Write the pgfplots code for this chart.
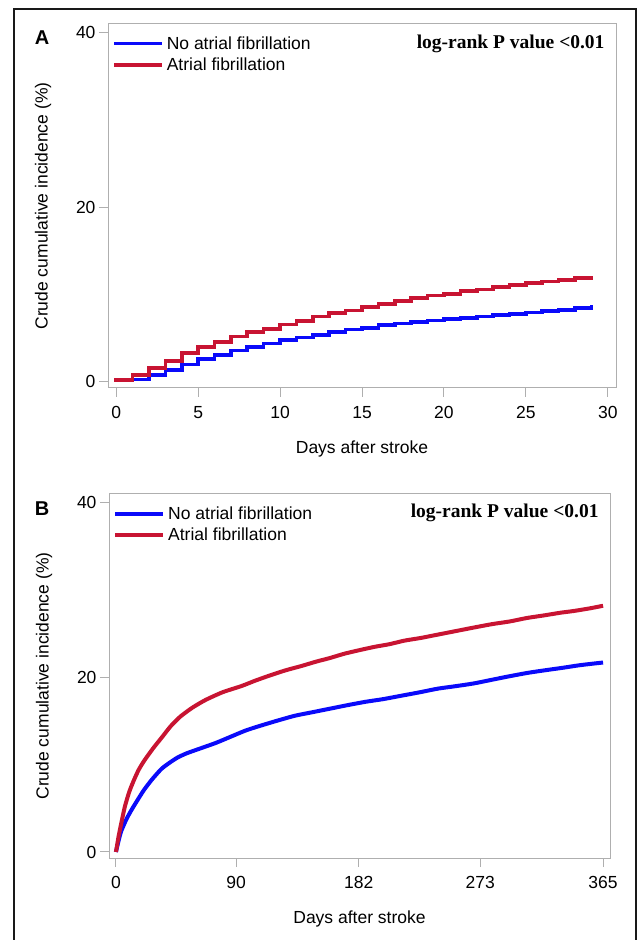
\documentclass[border=0pt]{standalone}
\usepackage{pgfplots}
\pgfplotsset{compat=1.18}
\usepackage{fontspec}
\setmainfont{Liberation Sans}
\newfontfamily\serifbf{Liberation Serif}
\definecolor{myblue}{RGB}{10,10,250}
\definecolor{myred}{RGB}{200,20,50}
\definecolor{axgray}{RGB}{175,175,175}
\newcommand{\fs}{\fontsize{17.5bp}{20bp}\selectfont}
\pgfplotsset{
  myaxis/.style={
    scale only axis,
    axis line style={axgray, line width=1bp},
    every tick/.style={axgray, line width=1bp},
    major tick length=9bp,
    tick align=outside,
    xtick pos=lower, ytick pos=left,
    ymin=-0.69, ymax=41.0,
    ytick={0,20,40},
    /pgf/number format/assume math mode=true,
    ticklabel style={font=\fs},
    xticklabel style={yshift=-6bp},
    label style={font=\fs},
    ylabel={Crude cumulative incidence (\%)},
    ylabel style={at={([xshift=-65bp]axis description cs:0,0.5)}, anchor=center},
    xlabel={Days after stroke},
    xlabel style={at={([yshift=-61bp]axis description cs:0.5,0)}, anchor=center},
    legend style={at={([xshift=4bp,yshift=-12.5bp]axis description cs:0,1)}, anchor=north west,
      draw=none, fill=none, inner sep=0pt, row sep=9bp, column sep=3bp,
      nodes={inner sep=0pt, text height=12.5bp, text depth=0bp, font=\fs}},
    legend cell align=left,
    legend image code/.code={\draw[#1] (3bp,-0.7bp) -- (51bp,-0.7bp);},
  }
}
\begin{document}
\begin{tikzpicture}[x=1bp,y=1bp]
\useasboundingbox (0,0) rectangle (640,940);
\draw[line width=2.6bp, black!90] (14,-10) -- (14,931) -- (636,931) -- (636,-10);
\node[font=\fontsize{20bp}{22bp}\selectfont\bfseries, anchor=base] at (42,895) {A};
\node[font=\fontsize{20bp}{22bp}\selectfont\bfseries, anchor=base] at (42,424) {B};
% Panel A
\begin{axis}[myaxis, at={(108bp,552bp)}, anchor=south west, width=508bp, height=364bp,
  xmin=-0.5, xmax=30.5, xtick={0,5,10,15,20,25,30}]
\addplot[const plot, myblue, line width=3.6bp] coordinates {
(0,0) (0,0.3) (1,0.3) (2,0.8) (3,1.4) (4,2.0) (5,2.6) (6,3.1) (7,3.6) (8,4.0) (9,4.4)
(10,4.8) (11,5.1) (12,5.4) (13,5.7) (14,6.0) (15,6.2) (16,6.5) (17,6.7) (18,6.9) (19,7.05)
(20,7.2) (21,7.35) (22,7.5) (23,7.65) (24,7.8) (25,7.95) (26,8.1) (27,8.25) (28,8.45) (29,8.6) (29.1,8.6)};
\addlegendentry{No atrial fibrillation}
\addplot[const plot, myred, line width=3.6bp] coordinates {
(0,0) (0,0.2) (1,0.8) (2,1.6) (3,2.4) (4,3.3) (5,4.0) (6,4.6) (7,5.2) (8,5.7) (9,6.1)
(10,6.6) (11,7.0) (12,7.5) (13,7.9) (14,8.2) (15,8.6) (16,8.9) (17,9.3) (18,9.6) (19,9.9)
(20,10.1) (21,10.4) (22,10.6) (23,10.9) (24,11.1) (25,11.3) (26,11.5) (27,11.7) (28,11.9) (29,11.9) (29.1,11.9)};
\addlegendentry{Atrial fibrillation}
\node[anchor=base east, font=\serifbf\bfseries\fontsize{19.5bp}{22bp}\selectfont]
  at ([xshift=-8bp,yshift=-25bp]axis description cs:1,1) {log-rank P value <0.01};
\end{axis}
% Panel B
\begin{axis}[myaxis, at={(109bp,82bp)}, anchor=south west, width=501bp, height=364bp,
  xmin=-5.2, xmax=370.2, xtick={0,90,182,273,365}]
\addplot[myblue, line width=4bp, line join=round, smooth, tension=0.4] coordinates {
(0,0) (2,1.3) (4,2.4) (8,3.8) (12,4.9) (16,5.9) (21,7.1) (27,8.3) (34,9.5) (40,10.2)
(46,10.8) (53,11.3) (64,11.9) (75,12.5) (86,13.2) (97,13.9) (107,14.4) (120,15.0) (134,15.6) (147,16.0) (160,16.4) (173,16.8) (187,17.2) (200,17.5) (214,17.9)
(228,18.3) (241,18.7) (255,19.0) (268,19.3) (281,19.7) (294,20.1) (308,20.5) (321,20.8) (335,21.1) (348,21.4) (365,21.7)};
\addlegendentry{No atrial fibrillation}
\addplot[myred, line width=4bp, line join=round, smooth, tension=0.4] coordinates {
(0,0) (1,0.9) (2,1.8) (4,3.3) (6.7,5.2) (10,6.9) (13.4,8.2) (17,9.4) (21.4,10.5) (28,11.9)
(34.8,13.2) (41,14.4) (48.2,15.5) (57,16.5) (67,17.4) (80,18.3) (94,19.0) (104,19.6) (115,20.2) (127,20.8)
(139,21.3) (150,21.8) (160,22.2) (171,22.7) (182,23.1) (194,23.5) (205,23.8) (216,24.2) (228,24.5) (238,24.8) (248,25.1) (258,25.4) (268,25.7) (282,26.1) (295,26.4) (308,26.8)
(321,27.1) (333,27.4) (343,27.6) (355,27.9) (365,28.2)};
\addlegendentry{Atrial fibrillation}
\node[anchor=base east, font=\serifbf\bfseries\fontsize{19.5bp}{22bp}\selectfont]
  at ([xshift=-8bp,yshift=-24bp]axis description cs:1,1) {log-rank P value <0.01};
\end{axis}
\end{tikzpicture}
\end{document}
